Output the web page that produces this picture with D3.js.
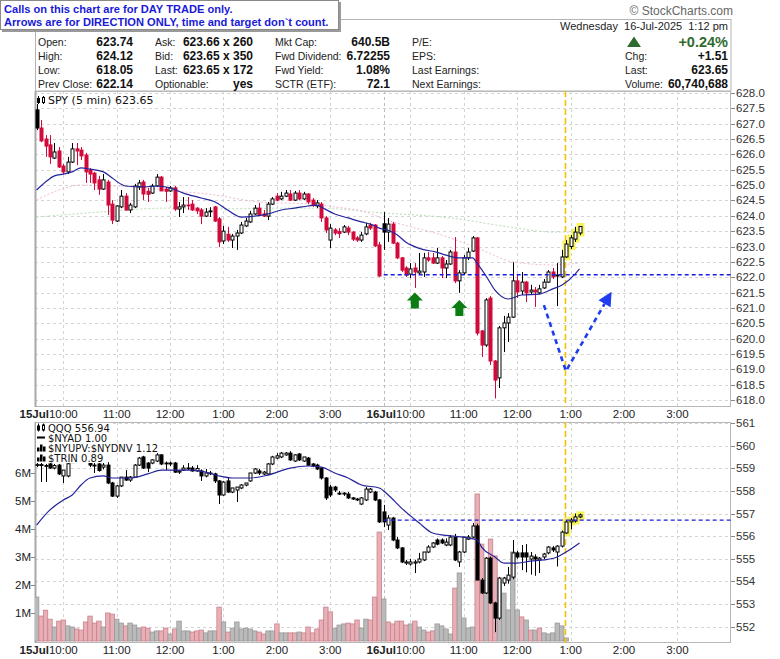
<!DOCTYPE html>
<html>
<head>
<meta charset="utf-8">
<script src="https://cdn.jsdelivr.net/npm/d3@7"></script>
<style>
    body { margin: 0; background: #fff; }
    svg { display: block; font-family: "Liberation Sans", Arial, sans-serif; }
</style>
</head>
<body>
<svg id="chart" width="780" height="659"></svg>
<script>
// ---- time axis ----
const hourSlots = [6, 18, 30, 42, 54, 66, 84, 96, 108, 120, 132, 144];
const hourLabels = ['10:00', '11:00', '12:00', '1:00', '2:00', '3:00', '10:00', '11:00', '12:00', '1:00', '2:00', '3:00'];
const dayLabels = [{ slot: 6, text: '15Jul' }, { slot: 84, text: '16Jul' }];
const dayBreakSlot = 78;
const nowSlot = 118.85;

// ---- tick labels ----
const priceTicks = [618.0, 618.5, 619.0, 619.5, 620.0, 620.5, 621.0, 621.5, 622.0, 622.5, 623.0, 623.5, 624.0, 624.5, 625.0, 625.5, 626.0, 626.5, 627.0, 627.5, 628.0];
const qqqTicks = [552, 553, 554, 555, 556, 557, 558, 559, 560, 561];
const volTicks = [1, 2, 3, 4, 5, 6];

// ---- SPY 5 min [open, high, low, close] ----
const spyDay1 = [
    [627.45, 627.64, 626.79, 626.86], [626.86, 627.12, 626.40, 626.44], [626.50, 626.63, 625.92, 626.27], [626.31, 626.63, 625.69, 625.92],
    [625.88, 626.37, 625.85, 626.08], [626.11, 626.24, 625.56, 625.59], [625.62, 625.69, 625.36, 625.43], [625.43, 625.92, 625.36, 625.75],
    [625.75, 626.37, 625.72, 626.18], [626.18, 626.37, 625.65, 626.11], [626.14, 626.24, 625.82, 625.95], [625.98, 626.05, 625.07, 625.43],
    [625.49, 625.56, 625.07, 625.36], [625.39, 625.43, 624.84, 625.07], [625.17, 625.30, 624.68, 624.87], [624.87, 625.36, 624.84, 625.17],
    [625.10, 625.17, 624.03, 624.35], [624.38, 624.51, 623.73, 623.86], [623.83, 624.35, 623.80, 624.32], [624.29, 624.84, 624.25, 624.64],
    [624.64, 624.74, 624.16, 624.19], [624.19, 624.42, 624.09, 624.35], [624.29, 625.04, 624.25, 624.97], [624.94, 625.17, 624.84, 625.07],
    [625.10, 625.17, 624.51, 624.71], [624.80, 624.91, 624.45, 624.70], [624.74, 625.04, 624.71, 624.97], [624.97, 625.36, 624.94, 625.26],
    [625.26, 625.30, 624.81, 624.81], [624.87, 624.94, 624.45, 624.80], [624.81, 624.97, 624.78, 624.91], [624.91, 624.97, 624.16, 624.22],
    [624.22, 624.45, 623.96, 624.29], [624.29, 624.61, 624.09, 624.35], [624.35, 624.61, 624.19, 624.33], [624.38, 624.51, 624.16, 624.19],
    [624.25, 624.28, 624.06, 624.16], [624.19, 624.25, 623.73, 623.99], [623.99, 624.25, 623.96, 624.12], [624.13, 624.28, 623.96, 624.16],
    [624.29, 624.32, 623.80, 623.83], [623.90, 623.96, 622.98, 623.15], [623.18, 623.67, 623.08, 623.50], [623.40, 623.64, 623.15, 623.21],
    [623.21, 623.41, 622.95, 623.34], [623.34, 623.54, 622.89, 623.44], [623.44, 623.80, 623.41, 623.70], [623.67, 623.93, 623.64, 623.83],
    [623.80, 624.16, 623.77, 624.06], [624.06, 624.35, 624.03, 624.25], [624.25, 624.42, 623.99, 624.03], [624.06, 624.19, 623.96, 623.99],
    [623.99, 624.45, 623.86, 624.38], [624.38, 624.61, 624.35, 624.55], [624.64, 624.74, 624.48, 624.51], [624.55, 624.78, 624.51, 624.64],
    [624.64, 624.84, 624.61, 624.74], [624.71, 624.84, 624.48, 624.51], [624.51, 624.81, 624.48, 624.74], [624.74, 624.84, 624.51, 624.55],
    [624.55, 624.78, 624.51, 624.71], [624.71, 624.74, 624.38, 624.45], [624.51, 624.58, 624.29, 624.35], [624.32, 624.51, 624.25, 624.42],
    [624.38, 624.45, 623.80, 623.93], [623.93, 623.99, 623.44, 623.54], [623.21, 623.73, 622.95, 623.60], [623.54, 623.60, 623.37, 623.44],
    [623.49, 623.60, 623.28, 623.42], [623.47, 623.70, 623.44, 623.64], [623.60, 623.67, 623.37, 623.47], [623.47, 623.50, 623.18, 623.24],
    [623.28, 623.34, 623.15, 623.21], [623.21, 623.47, 623.15, 623.37], [623.41, 623.77, 623.37, 623.64], [623.70, 623.77, 623.54, 623.60],
    [623.70, 623.73, 622.98, 623.02], [623.05, 623.15, 622.01, 622.04]
];
const spyDay2 = [
    [623.74, 624.12, 622.89, 623.47], [623.47, 623.93, 623.15, 623.73], [623.73, 623.80, 623.08, 623.11], [623.11, 623.15, 622.59, 622.63],
    [622.63, 622.66, 622.17, 622.23], [622.30, 622.36, 622.01, 622.07], [622.10, 622.46, 621.97, 622.27], [622.30, 622.46, 621.65, 622.17],
    [622.14, 622.79, 622.07, 622.20], [622.17, 622.79, 622.01, 622.63], [622.63, 622.82, 622.50, 622.56], [622.63, 622.79, 622.43, 622.46],
    [622.46, 622.95, 622.43, 622.63], [622.63, 622.69, 621.97, 622.30], [622.30, 622.56, 621.97, 622.43], [622.43, 622.89, 622.40, 622.82],
    [622.82, 623.31, 621.81, 621.88], [621.88, 622.23, 621.49, 622.14], [622.14, 622.72, 622.07, 622.63], [622.63, 622.95, 622.56, 622.82],
    [622.85, 623.34, 622.82, 623.28], [623.28, 623.31, 620.10, 620.18], [620.25, 620.28, 619.40, 619.79], [619.79, 621.32, 619.73, 621.26],
    [621.32, 621.39, 619.14, 619.27], [619.27, 619.30, 618.05, 618.65], [618.72, 620.41, 618.39, 620.35], [620.35, 620.74, 619.56, 620.51],
    [620.51, 620.83, 619.89, 620.70], [620.70, 622.49, 620.67, 621.88], [621.88, 622.07, 621.32, 621.52], [621.55, 622.17, 621.42, 621.84],
    [621.84, 621.88, 621.19, 621.49], [621.52, 621.75, 621.42, 621.58], [621.58, 621.68, 621.03, 621.52], [621.49, 621.75, 621.45, 621.62],
    [621.65, 621.94, 621.62, 621.84], [621.84, 622.23, 621.81, 622.17], [622.17, 622.30, 621.94, 622.01], [622.07, 622.46, 621.06, 622.04],
    [622.01, 622.89, 621.97, 622.66], [622.66, 623.21, 622.63, 623.08], [623.00, 623.37, 622.92, 623.28], [623.24, 623.64, 623.15, 623.47],
    [623.44, 623.67, 623.37, 623.65]
];

// ---- QQQ 5 min [open, high, low, close] ----
const qqqDay1 = [
    [559.14, 559.23, 559.05, 559.16], [559.16, 559.23, 558.39, 559.12], [559.12, 559.19, 558.39, 559.10], [559.19, 559.23, 558.97, 559.01],
    [559.01, 559.19, 558.95, 559.12], [559.14, 559.19, 558.70, 558.75], [558.66, 558.92, 558.35, 558.92], [558.66, 559.23, 558.60, 559.20],
    [559.25, 559.62, 559.24, 559.52], [559.52, 559.70, 559.40, 559.48], [559.48, 559.60, 559.35, 559.40], [559.40, 559.50, 559.28, 559.32],
    [559.30, 559.35, 559.05, 559.14], [559.14, 559.27, 558.79, 559.10], [559.19, 559.23, 558.85, 558.90], [559.05, 559.27, 558.95, 559.14],
    [559.14, 559.27, 558.30, 558.35], [558.35, 558.40, 557.73, 557.77], [557.77, 558.26, 557.69, 558.22], [558.22, 558.61, 558.17, 558.61],
    [558.61, 558.92, 558.44, 558.48], [558.48, 558.66, 558.40, 558.61], [558.61, 559.19, 558.57, 559.14], [559.14, 559.50, 559.10, 559.45],
    [559.50, 559.55, 558.97, 559.01], [559.23, 559.27, 558.83, 559.01], [559.23, 559.40, 559.18, 559.37], [559.32, 559.67, 559.28, 559.59],
    [559.59, 559.63, 559.14, 559.19], [559.23, 559.30, 558.92, 559.20], [559.19, 559.30, 559.10, 559.23], [559.23, 559.28, 558.80, 558.83],
    [558.83, 558.92, 558.75, 558.88], [558.92, 559.14, 558.88, 559.01], [559.01, 559.23, 558.92, 559.01], [559.01, 559.10, 558.85, 558.88],
    [558.88, 559.14, 558.85, 558.99], [558.88, 558.95, 558.44, 558.66], [558.66, 558.97, 558.60, 558.79], [558.79, 558.88, 558.70, 558.79],
    [558.75, 558.80, 558.35, 558.44], [558.44, 558.48, 557.42, 557.82], [557.82, 558.44, 557.78, 558.39], [558.44, 558.61, 557.91, 557.95],
    [557.95, 558.13, 557.90, 558.13], [558.04, 558.17, 557.51, 558.17], [558.13, 558.30, 558.08, 558.26], [558.26, 558.35, 558.20, 558.35],
    [558.44, 558.80, 558.40, 558.79], [558.79, 559.01, 558.75, 558.97], [558.88, 558.97, 558.70, 558.79], [558.75, 558.88, 558.70, 558.83],
    [558.75, 559.23, 558.70, 559.19], [559.19, 559.55, 559.14, 559.50], [559.45, 559.67, 559.40, 559.55], [559.50, 559.72, 559.45, 559.67],
    [559.59, 559.72, 559.55, 559.67], [559.67, 559.76, 559.33, 559.37], [559.32, 559.63, 559.28, 559.59], [559.63, 559.67, 559.32, 559.37],
    [559.32, 559.50, 559.28, 559.50], [559.45, 559.50, 559.10, 559.14], [559.19, 559.23, 559.05, 559.10], [559.14, 559.20, 558.92, 558.97],
    [559.01, 559.05, 558.50, 558.57], [558.57, 558.61, 557.60, 557.69], [558.17, 558.26, 557.73, 557.82], [558.17, 558.22, 557.95, 558.04],
    [557.90, 558.00, 557.82, 557.86], [557.86, 557.95, 557.78, 557.90], [557.86, 557.95, 557.64, 557.69], [557.69, 557.73, 557.60, 557.64],
    [557.64, 557.69, 557.55, 557.60], [557.42, 557.73, 557.38, 557.69], [557.60, 558.17, 557.55, 558.08], [557.95, 558.13, 557.90, 558.08],
    [557.95, 558.00, 557.55, 557.60], [557.60, 557.64, 556.58, 556.63]
];
const qqqDay2 = [
    [557.07, 557.38, 556.40, 556.63], [556.49, 556.93, 556.27, 556.80], [556.80, 556.85, 555.78, 555.83], [555.83, 555.96, 555.43, 555.48],
    [555.48, 555.52, 554.81, 554.86], [554.81, 554.95, 554.73, 554.86], [554.77, 555.00, 554.70, 554.86], [554.81, 554.95, 554.37, 554.86],
    [554.86, 555.26, 554.80, 554.99], [554.95, 555.30, 554.90, 555.30], [555.30, 555.60, 555.25, 555.52], [555.52, 555.74, 555.48, 555.70],
    [555.83, 555.90, 555.60, 555.65], [555.83, 555.90, 555.65, 555.70], [555.61, 555.90, 555.56, 555.74], [555.61, 556.05, 555.56, 555.96],
    [555.96, 556.10, 554.90, 554.95], [554.86, 555.35, 554.64, 555.30], [555.30, 555.96, 555.25, 555.96], [555.87, 556.05, 555.83, 555.96],
    [555.96, 556.58, 555.92, 556.45], [556.45, 556.55, 554.06, 554.06], [554.06, 554.15, 553.45, 553.49], [553.49, 555.08, 553.45, 555.03],
    [555.03, 555.10, 553.00, 553.05], [553.05, 553.10, 551.76, 552.38], [552.38, 554.20, 552.30, 554.15], [553.93, 554.20, 553.80, 554.15],
    [554.06, 554.64, 553.90, 554.28], [554.19, 555.83, 554.10, 555.26], [555.26, 555.35, 555.00, 555.08], [555.26, 555.61, 554.50, 555.08],
    [555.26, 555.65, 554.40, 555.08], [554.99, 555.30, 554.30, 555.12], [555.08, 555.20, 554.25, 554.99], [554.95, 555.08, 554.37, 555.03],
    [555.08, 555.26, 554.99, 555.21], [555.26, 555.56, 555.20, 555.52], [555.48, 555.56, 555.30, 555.39], [555.30, 555.60, 554.66, 555.56],
    [555.56, 556.25, 555.50, 556.18], [556.14, 556.70, 556.10, 556.63], [556.63, 556.80, 556.30, 556.71], [556.67, 557.00, 556.60, 556.85],
    [556.85, 557.00, 556.80, 556.94]
];

// ---- volume (millions) and bar tone: g = grey, p = pink ----
const volDay1 = [1.57, 0.89, 1.10, 0.78, 0.50, 0.71, 0.75, 0.54, 0.50, 0.43, 0.39, 0.68, 0.89, 0.64, 0.71, 0.50, 1.00, 0.96, 0.78, 0.64,
    0.54, 0.64, 0.57, 0.46, 0.50, 0.46, 0.32, 0.36, 0.36, 0.46, 0.25, 0.43, 0.71, 0.36, 0.36, 0.32, 0.36, 0.39, 0.29, 0.36,
    0.36, 1.21, 0.68, 0.32, 0.46, 0.68, 0.43, 0.46, 0.43, 0.36, 0.32, 0.25, 0.36, 0.36, 0.61, 0.29, 0.29, 0.29, 0.29, 0.32,
    0.29, 0.50, 0.29, 0.43, 0.75, 1.21, 1.04, 0.46, 0.57, 0.61, 0.64, 0.61, 0.75, 0.46, 0.78, 0.75, 1.57, 3.89];
const volDay2 = [1.50, 0.68, 0.61, 0.71, 0.71, 0.57, 0.61, 0.71, 0.50, 0.39, 0.32, 0.36, 0.61, 0.54, 0.43, 0.25, 1.89, 2.43, 0.82, 0.46,
    0.50, 5.25, 3.46, 1.71, 3.64, 3.04, 2.18, 1.71, 1.11, 3.18, 1.11, 0.86, 0.75, 0.39, 0.39, 0.46, 0.29, 0.25, 0.29, 0.64,
    0.54, 0.11, 0, 0, 0];
const volToneDay1 = 'gpppgppggppppppgppggpgggppggppgpgggpppgggpgpggggggppggpggppgpppppppgggpppggppp';
const volToneDay2 = 'gpppppgpggppggggpggggppgppgggggpgpgpgggggggggg';

// ---- moving averages [slot, value] ----
const spyMaSlots = [0, 2, 4, 6, 8, 10, 12, 15, 17, 20, 24, 27, 30, 33, 37, 40, 43, 46, 49, 52, 55, 58, 61, 63, 64, 67, 70, 73, 75, 77,
    79, 81, 83, 86, 90, 92, 95, 98, 99, 101, 103, 106, 109, 113, 116, 118, 121, 122];
const spyMaValues = [624.84, 625.10, 625.30, 625.36, 625.43, 625.56, 625.52, 625.43, 625.23, 624.97, 624.94, 624.97, 624.91, 624.74, 624.58,
    624.46, 624.18, 623.96, 623.99, 624.06, 624.19, 624.25, 624.32, 624.35, 624.28, 624.06, 623.93, 623.80, 623.73, 623.60,
    623.53, 623.38, 623.14, 622.94, 622.81, 622.72, 622.63, 622.63, 622.45, 622.04, 621.58, 621.29, 621.42, 621.45, 621.62,
    621.74, 622.10, 622.27];
const spySlowSlots = [0, 5, 10, 22, 31, 40, 50, 62, 67, 74, 78, 93, 100, 107, 116, 122];
const spySlowValues = [624.51, 624.84, 625.00, 624.94, 624.81, 624.68, 624.45, 624.38, 624.29, 624.12, 623.90, 623.28, 622.89, 622.50, 622.40, 622.46];
const spyLongSlots = [0, 14, 29, 37, 58, 63, 78, 93, 106, 116, 122];
const spyLongValues = [623.96, 624.12, 624.25, 624.22, 624.25, 624.25, 624.09, 623.93, 623.64, 623.47, 623.47];
const qqqMaSlots = [0, 3, 6, 8, 10, 12, 15, 17, 21, 25, 28, 35, 38, 41, 44, 48, 52, 57, 61, 64, 67, 70, 73, 77, 79, 82, 86, 89, 93, 97,
    99, 100, 103, 105, 108, 111, 114, 117, 119, 122];
const qqqMaValues = [556.49, 557.16, 557.60, 557.82, 558.26, 558.57, 558.66, 558.57, 558.57, 558.75, 558.92, 558.92, 558.83, 558.66, 558.57,
    558.57, 558.70, 559.01, 559.10, 559.05, 558.79, 558.57, 558.26, 558.13, 557.82, 557.24, 556.58, 556.14, 556.01, 555.92,
    555.83, 555.52, 555.08, 554.81, 554.81, 554.90, 554.95, 555.08, 555.30, 555.70];

// ---- drawn annotations (slot, price) ----
const spyLevel = 622.08;
const qqqLevel = 556.71;
const callPath = [[114, 621.09], [118.95, 618.94], [129.2, 621.53]];
const buySignals = [[85, 621.50], [95, 621.26]];
const highlightFrom = 119;

// ---- header ----
const noteLines = ['Calls on this chart are for DAY TRADE only.', 'Arrows are for DIRECTION ONLY, time and target don`t count.'];
const quoteLabels1 = ['Open:', 'High:', 'Low:', 'Prev Close:'];
const quoteValues1 = ['623.74', '624.12', '618.05', '622.14'];
const quoteLabels2 = ['Ask:', 'Bid:', 'Last:', 'Optionable:'];
const quoteValues2 = ['623.66 x 260', '623.65 x 350', '623.65 x 172', 'yes'];
const quoteLabels3 = ['Mkt Cap:', 'Fwd Dividend:', 'Fwd Yield:', 'SCTR (ETF):'];
const quoteValues3 = ['640.5B', '6.72255', '1.08%', '72.1'];
const quoteLabels4 = ['P/E:', 'EPS:', 'Last Earnings:', 'Next Earnings:'];
const quoteLabels5 = ['', 'Chg:', 'Last:', 'Volume:'];
const quoteValues5 = ['+0.24%', '+1.51', '623.65', '60,740,688'];
const stampText = 'Wednesday  16-Jul-2025  1:12 pm';

const RED = '#d20a3c';
const NAVY = '#23239b';
const LINE_BLUE = '#1d1de0';

const svg = d3.select('#chart');
const x = d3.scaleLinear().domain([0, 156]).range([36.6, 730.8]);
const topBox = { x0: 35, x1: 731, y0: 91, y1: 407 };
const lowBox = { x0: 35, x1: 731, y0: 422, y1: 643 };
const yPrice = d3.scaleLinear().domain([618, 628]).range([400, 93]);
const yQqq = d3.scaleLinear().domain([552, 561]).range([626.7, 423]);
const yVol = d3.scaleLinear().domain([0, 6]).range([641, 473]);

const spyBars = spyDay1.concat(spyDay2);
const qqqBars = qqqDay1.concat(qqqDay2);
const volume = volDay1.concat(volDay2);
const volTone = (volToneDay1 + volToneDay2).split('');

document.addEventListener('DOMContentLoaded', () => {
    renderHeader();
    renderFrame(topBox, 'clip-top', yPrice, priceTicks);
    renderFrame(lowBox, 'clip-low', yQqq, qqqTicks);
    renderPricePanel();
    renderLowerPanel();
    renderTimeAxis(414);
    renderTimeAxis(650);
    renderRightAxis(yPrice, priceTicks, d => d.toFixed(1), topBox);
    renderRightAxis(yQqq, qqqTicks, d => d, lowBox);
    renderVolumeAxis();
});

function renderHeader() {
    svg.append('text').attr('x', 733).attr('y', 15).attr('text-anchor', 'end')
        .attr('font-size', 12).attr('fill', '#666').text('\u00A9 StockCharts.com');

    // quote box
    svg.append('rect').attr('x', 35.5).attr('y', 19.5).attr('width', 695.5).attr('height', 71.5)
        .attr('fill', '#fff').attr('stroke', '#b4b4b4');
    svg.append('text').attr('x', 728).attr('y', 30).attr('text-anchor', 'end')
        .attr('font-size', 11).attr('fill', '#222').style('white-space', 'pre').text(stampText);

    const rowY = [45.5, 59.5, 74, 88];
    const cols = [
        { lx: 38, vx: 133, labels: quoteLabels1, values: quoteValues1 },
        { lx: 155, vx: 253, labels: quoteLabels2, values: quoteValues2 },
        { lx: 275, vx: 390, labels: quoteLabels3, values: quoteValues3 },
        { lx: 412, vx: null, labels: quoteLabels4, values: [] },
        { lx: 625, vx: 728, labels: quoteLabels5, values: quoteValues5 }
    ];
    cols.forEach(col => {
        col.labels.forEach((label, r) => {
            svg.append('text').attr('x', col.lx).attr('y', rowY[r])
                .attr('font-size', 10.5).attr('fill', '#222').text(label);
        });
        col.values.forEach((value, r) => {
            const big = col.lx === 625 && r === 0;
            svg.append('text').attr('x', col.vx).attr('y', big ? rowY[r] + 1 : rowY[r])
                .attr('text-anchor', 'end').attr('font-weight', 'bold')
                .attr('font-size', big ? 14.5 : 12)
                .attr('fill', big ? '#2f6b2f' : '#111').text(value);
        });
    });
    svg.append('path').attr('d', 'M627,47 L634,36.5 L641,47 Z').attr('fill', '#2f6b2f');

    // note box over the top-left corner
    svg.append('rect').attr('x', 2).attr('y', 2).attr('width', 339).attr('height', 30).attr('fill', '#9a9a9a');
    svg.append('rect').attr('x', 0.5).attr('y', 0.5).attr('width', 338).attr('height', 29)
        .attr('fill', '#fff').attr('stroke', '#8a8a8a');
    noteLines.forEach((line, i) => {
        svg.append('text').attr('x', 4).attr('y', 13 + i * 13)
            .attr('font-size', 11.1).attr('font-weight', 'bold').attr('fill', '#1a1ad8').text(line);
    });
}

function renderFrame(box, clipId, yScale, ticks) {
    svg.append('clipPath').attr('id', clipId).append('rect')
        .attr('x', box.x0).attr('y', box.y0).attr('width', box.x1 - box.x0).attr('height', box.y1 - box.y0);

    const grid = svg.append('g').attr('stroke', '#d4d4d4').attr('stroke-dasharray', '3,3');
    grid.selectAll('line.h').data(ticks).join('line').attr('class', 'h')
        .attr('x1', box.x0).attr('x2', box.x1)
        .attr('y1', d => Math.round(yScale(d)) + 0.5).attr('y2', d => Math.round(yScale(d)) + 0.5);
    grid.selectAll('line.v').data(hourSlots.concat([dayBreakSlot])).join('line').attr('class', 'v')
        .attr('x1', d => Math.round(x(d)) + 0.5).attr('x2', d => Math.round(x(d)) + 0.5)
        .attr('y1', box.y0).attr('y2', box.y1)
        .attr('stroke', d => d === dayBreakSlot ? '#bdbdbd' : null);

    svg.append('rect').attr('x', box.x0 + 0.5).attr('y', box.y0 + 0.5)
        .attr('width', box.x1 - box.x0 - 1).attr('height', box.y1 - box.y0 - 1)
        .attr('fill', 'none').attr('stroke', '#b8b8b8');
    svg.append('line').attr('x1', box.x0 + 0.5).attr('x2', box.x0 + 0.5)
        .attr('y1', box.y0).attr('y2', box.y1).attr('stroke', '#a8a8a8').attr('stroke-width', 2);
}

function candleColor(bars, i, colored) {
    if (!colored || i === 0) return '#000';
    return bars[i][3] < bars[i - 1][3] ? RED : '#000';
}

function drawHighlight(g, bars, yScale) {
    const marked = bars.map((b, i) => ({ b, i })).filter(d => d.i >= highlightFrom);
    g.selectAll('rect.hl').data(marked).join('rect').attr('class', 'hl')
        .attr('x', d => Math.round(x(d.i)) - 3.5)
        .attr('y', d => yScale(Math.max(d.b[0], d.b[3])) - 3.5)
        .attr('width', 8)
        .attr('height', d => yScale(Math.min(d.b[0], d.b[3])) - yScale(Math.max(d.b[0], d.b[3])) + 7)
        .attr('fill', '#f6f45a');
}

function drawCandles(g, bars, yScale, colored) {
    const items = bars.map((b, i) => ({ o: b[0], h: b[1], l: b[2], c: b[3], i, col: candleColor(bars, i, colored) }));
    g.selectAll('line.wick').data(items).join('line').attr('class', 'wick')
        .attr('x1', d => Math.round(x(d.i)) + 0.5).attr('x2', d => Math.round(x(d.i)) + 0.5)
        .attr('y1', d => yScale(d.h)).attr('y2', d => yScale(d.l))
        .attr('stroke', d => d.col);
    g.selectAll('rect.body').data(items).join('rect').attr('class', 'body')
        .attr('x', d => Math.round(x(d.i)) - 1)
        .attr('y', d => yScale(Math.max(d.o, d.c)))
        .attr('width', 3)
        .attr('height', d => Math.max(yScale(Math.min(d.o, d.c)) - yScale(Math.max(d.o, d.c)), 0.8))
        .attr('fill', d => d.c >= d.o ? '#fff' : d.col)
        .attr('stroke', d => d.col).attr('stroke-width', 1);
}

function drawLine(g, slots, values, yScale, color, width, dash) {
    const line = d3.line().x(d => x(d[0])).y(d => yScale(d[1])).curve(d3.curveMonotoneX);
    g.append('path').attr('d', line(slots.map((s, i) => [s, values[i]])))
        .attr('fill', 'none').attr('stroke', color).attr('stroke-width', width)
        .attr('stroke-dasharray', dash || null);
}

function drawNowLine(g, box) {
    g.append('line').attr('x1', x(nowSlot)).attr('x2', x(nowSlot))
        .attr('y1', box.y0).attr('y2', box.y1)
        .attr('stroke', '#f7c000').attr('stroke-width', 1.6).attr('stroke-dasharray', '6,3');
}

function renderPricePanel() {
    const g = svg.append('g').attr('clip-path', 'url(#clip-top)');
    drawLine(g, spyLongSlots, spyLongValues, yPrice, '#b9dcb9', 1, '2,2');
    drawLine(g, spySlowSlots, spySlowValues, yPrice, '#efbccb', 1, '2,2');
    drawNowLine(g, topBox);
    drawHighlight(g, spyBars, yPrice);
    drawCandles(g, spyBars, yPrice, true);
    drawLine(g, spyMaSlots, spyMaValues, yPrice, NAVY, 1.2);

    g.append('line').attr('x1', x(dayBreakSlot)).attr('x2', topBox.x1)
        .attr('y1', yPrice(spyLevel)).attr('y2', yPrice(spyLevel))
        .attr('stroke', LINE_BLUE).attr('stroke-width', 1.3).attr('stroke-dasharray', '4,3');

    // direction call
    const pts = callPath.map(p => [x(p[0]), yPrice(p[1])]);
    const [ex, ey] = pts[2];
    const [px, py] = pts[1];
    const len = Math.hypot(ex - px, ey - py);
    const ux = (ex - px) / len, uy = (ey - py) / len;
    const bx = ex - ux * 14, by = ey - uy * 14;
    g.append('path').attr('d', d3.line()([pts[0], pts[1], [bx, by]]))
        .attr('fill', 'none').attr('stroke', '#1f3cf0').attr('stroke-width', 2.6).attr('stroke-dasharray', '5,4');
    g.append('path')
        .attr('d', `M${ex},${ey} L${bx - uy * 7},${by + ux * 7} L${bx + uy * 7},${by - ux * 7} Z`)
        .attr('fill', '#1f3cf0');

    g.selectAll('path.buy').data(buySignals).join('path').attr('class', 'buy')
        .attr('d', d => {
            const cx = x(d[0]), ty = yPrice(d[1]);
            return `M${cx},${ty} L${cx + 8},${ty + 8} L${cx + 4},${ty + 8} L${cx + 4},${ty + 16} L${cx - 4},${ty + 16} L${cx - 4},${ty + 8} L${cx - 8},${ty + 8} Z`;
        })
        .attr('fill', '#0b7d12');

    const legend = svg.append('g');
    legendIcon(legend, 37, 96, 'candle');
    legend.append('text').attr('x', 48).attr('y', 104).attr('font-family', '"DejaVu Sans", sans-serif')
        .attr('font-size', 11).attr('fill', '#111').text('SPY (5 min) 623.65');
}

function legendIcon(g, ix, iy, kind) {
    if (kind === 'candle') {
        g.append('line').attr('x1', ix + 1.5).attr('x2', ix + 1.5).attr('y1', iy).attr('y2', iy + 8).attr('stroke', '#000');
        g.append('rect').attr('x', ix).attr('y', iy + 2).attr('width', 3).attr('height', 5).attr('fill', '#000');
        g.append('line').attr('x1', ix + 6.5).attr('x2', ix + 6.5).attr('y1', iy).attr('y2', iy + 8).attr('stroke', '#000');
        g.append('rect').attr('x', ix + 5.5).attr('y', iy + 1.5).attr('width', 2).attr('height', 5).attr('fill', '#fff').attr('stroke', '#000');
    } else if (kind === 'line') {
        g.append('rect').attr('x', ix).attr('y', iy + 3).attr('width', 8).attr('height', 2).attr('fill', '#000');
    } else {
        [[0, 4], [3, 1], [6, 3]].forEach(([dx, h]) => {
            g.append('rect').attr('x', ix + dx).attr('y', iy + h).attr('width', 2.5).attr('height', 8 - h).attr('fill', '#000');
        });
    }
}

function renderLowerPanel() {
    const g = svg.append('g').attr('clip-path', 'url(#clip-low)');
    const bars = volume.map((v, i) => ({ v, i, tone: volTone[i] })).filter(d => d.v > 0);
    g.selectAll('rect.vol').data(bars).join('rect').attr('class', 'vol')
        .attr('x', d => x(d.i) - 2.2).attr('width', 4.45)
        .attr('y', d => yVol(d.v)).attr('height', d => yVol(0) - yVol(d.v))
        .attr('fill', d => d.tone === 'p' ? '#e8b0b6' : '#bababa')
        .attr('stroke', d => d.tone === 'p' ? '#c9818b' : '#999').attr('stroke-width', 0.8);

    drawNowLine(g, lowBox);
    drawHighlight(g, qqqBars, yQqq);
    drawCandles(g, qqqBars, yQqq, false);
    drawLine(g, qqqMaSlots, qqqMaValues, yQqq, NAVY, 1.2);
    g.append('line').attr('x1', x(dayBreakSlot)).attr('x2', lowBox.x1)
        .attr('y1', yQqq(qqqLevel)).attr('y2', yQqq(qqqLevel))
        .attr('stroke', LINE_BLUE).attr('stroke-width', 1.3).attr('stroke-dasharray', '4,3');

    const rows = [
        { kind: 'candle', text: 'QQQ 556.94' },
        { kind: 'line', text: '$NYAD 1.00' },
        { kind: 'hist', text: '$NYUPV:$NYDNV 1.12' },
        { kind: 'hist', text: '$TRIN 0.89' }
    ];
    const legend = svg.append('g');
    rows.forEach((row, r) => {
        const y = 431.5 + r * 10;
        const bg = legend.append('rect').attr('x', 36).attr('y', y - 8.5).attr('height', 10).attr('fill', '#fff');
        legendIcon(legend, 37, y - 8, row.kind);
        const t = legend.append('text').attr('x', 48).attr('y', y).attr('font-family', '"DejaVu Sans", sans-serif')
            .attr('font-size', 10).attr('fill', '#111').text(row.text);
        bg.attr('width', t.node().getComputedTextLength() + 13);
    });
}

function renderTimeAxis(y) {
    const g = svg.append('g').attr('font-size', 11.5).attr('fill', '#222');
    g.selectAll('text.hour').data(hourSlots).join('text').attr('class', 'hour')
        .attr('x', d => x(d)).attr('y', y + 4).attr('text-anchor', 'middle')
        .text((d, i) => hourLabels[i]);
    dayLabels.forEach(day => {
        const hw = g.append('text').attr('visibility', 'hidden').text('10:00');
        const half = hw.node().getComputedTextLength() / 2;
        hw.remove();
        g.append('text').attr('x', x(day.slot) - half).attr('y', y + 4).attr('text-anchor', 'end')
            .attr('font-weight', 'bold').text(day.text);
    });
}

function renderRightAxis(yScale, ticks, fmt, box) {
    const g = svg.append('g').attr('font-size', 11.5).attr('fill', '#333');
    g.selectAll('line').data(ticks).join('line')
        .attr('x1', box.x1).attr('x2', box.x1 + 4)
        .attr('y1', d => Math.round(yScale(d)) + 0.5).attr('y2', d => Math.round(yScale(d)) + 0.5)
        .attr('stroke', '#888');
    g.selectAll('text').data(ticks).join('text')
        .attr('x', box.x1 + 5).attr('y', d => yScale(d) + 4).text(fmt);
}

function renderVolumeAxis() {
    const g = svg.append('g').attr('font-size', 11.5).attr('fill', '#222');
    g.selectAll('line').data(volTicks).join('line')
        .attr('x1', 31).attr('x2', 35)
        .attr('y1', d => Math.round(yVol(d)) + 0.5).attr('y2', d => Math.round(yVol(d)) + 0.5)
        .attr('stroke', '#888');
    g.selectAll('text').data(volTicks).join('text')
        .attr('x', 31).attr('y', d => yVol(d) + 4).attr('text-anchor', 'end').text(d => d + 'M');
}
</script>
</body>
</html>
